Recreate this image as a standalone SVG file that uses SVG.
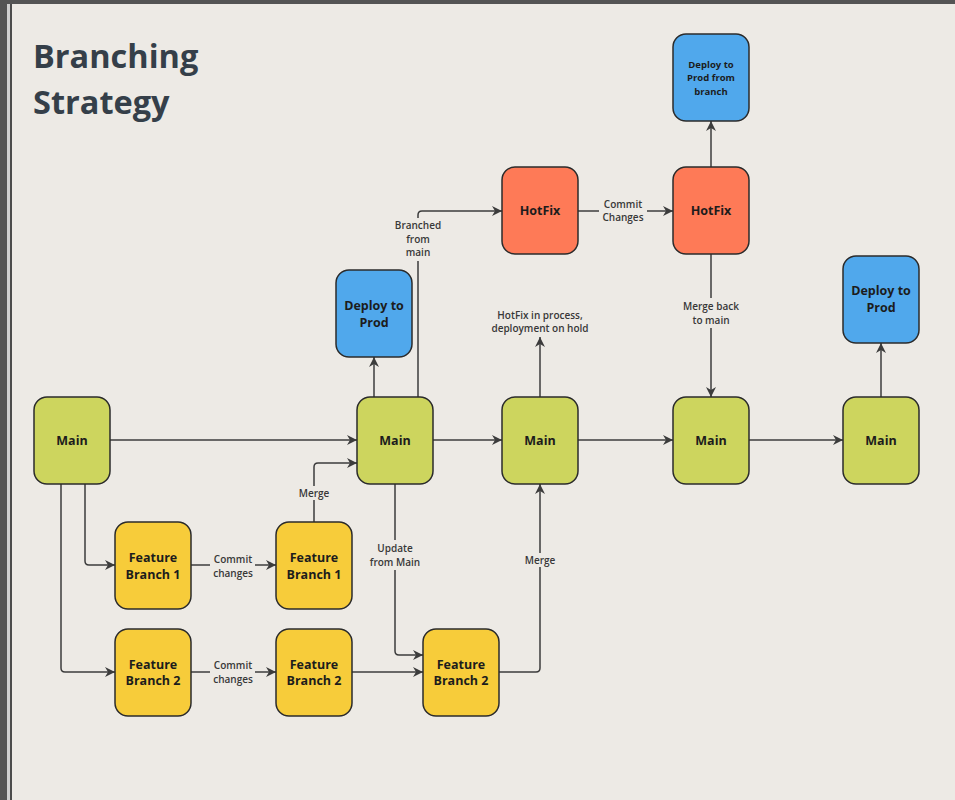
<svg xmlns="http://www.w3.org/2000/svg" width="955" height="800" viewBox="0 0 955 800">
<style>
.node rect{stroke:#2b2b2b;stroke-width:1.5}
.main rect{fill:#CDD55E}
.feat rect{fill:#F7CC3A}
.hot rect{fill:#FE7A57}
.dep rect{fill:#50A8EC}
.nt{font-family:"Open Sans","Noto Sans",sans-serif;font-weight:700;font-size:12.5px;fill:#1c1c1c;text-anchor:middle}
.st{font-size:9.5px}
.conn path{fill:none;stroke:#3c3c3c;stroke-width:1.5;marker-end:url(#ah)}
.lbl rect{fill:#EDEAE5}
.lt{font-family:"Open Sans","Noto Sans",sans-serif;font-weight:600;font-size:10px;fill:#383838;text-anchor:middle}
</style>
<defs>
<marker id="ah" viewBox="0 0 10 10" refX="10" refY="5" markerWidth="10" markerHeight="10" markerUnits="userSpaceOnUse" orient="auto">
<path d="M0,0 L10,5 L0,10 L3,5 z" fill="#3c3c3c"/>
</marker>
</defs>
<rect x="0" y="0" width="955" height="800" fill="#EDEAE5"/>
<rect x="0" y="0" width="955" height="4" fill="#545454"/>
<rect x="0" y="0" width="7" height="800" fill="#545454"/>
<rect x="7" y="4" width="3" height="796" fill="#CFCFCF"/>
<rect x="10" y="4" width="2" height="796" fill="#4c4c4c"/>
<g id="title" font-family="Open Sans,Noto Sans,sans-serif" font-weight="700" font-size="32.5" fill="#353F49">
<text x="33" y="68">Branching</text>
<text x="33" y="114">Strategy</text>
</g>
<g id="connectors" class="conn">
<path d="M110,440 H357"/>
<path d="M85,484 V561 Q85,565 89,565 H115"/>
<path d="M61,484 V668 Q61,672 65,672 H115"/>
<path d="M191,565 H276"/>
<path d="M314,522 V467 Q314,463 318,463 H357"/>
<path d="M395,484 V651 Q395,655 399,655 H423"/>
<path d="M191,672 H276"/>
<path d="M352,672 H423"/>
<path d="M499,672 H536 Q540,672 540,668 V484"/>
<path d="M433,440 H502"/>
<path d="M374,397 V357"/>
<path d="M418,397 V215 Q418,211 422,211 H502"/>
<path d="M578,211 H673"/>
<path d="M711,167 V121"/>
<path d="M711,254 V397"/>
<path d="M540,397 V337"/>
<path d="M578,440 H673"/>
<path d="M749,440 H843"/>
<path d="M881,397 V343"/>
</g>
<g id="labels" class="lbl">
<rect x="210" y="553" width="45" height="28"/>
<text class="lt" x="233" y="562.5">Commit</text>
<text class="lt" x="233" y="576.5">changes</text>
<rect x="210" y="658" width="45" height="28"/>
<text class="lt" x="233" y="669">Commit</text>
<text class="lt" x="233" y="683">changes</text>
<rect x="296" y="486" width="36" height="14"/>
<text class="lt" x="314" y="496.5">Merge</text>
<rect x="369" y="540" width="52" height="30"/>
<text class="lt" x="395" y="551.5">Update</text>
<text class="lt" x="395" y="565.5">from Main</text>
<rect x="522" y="553" width="36" height="14"/>
<text class="lt" x="540" y="563.5">Merge</text>
<rect x="395" y="218" width="46" height="43"/>
<text class="lt" x="418" y="228.5">Branched</text>
<text class="lt" x="418" y="242.5">from</text>
<text class="lt" x="418" y="256">main</text>
<rect x="599" y="197" width="48" height="28"/>
<text class="lt" x="623" y="207.5">Commit</text>
<text class="lt" x="623" y="221">Changes</text>
<rect x="680" y="298" width="62" height="30"/>
<text class="lt" x="711" y="309.5">Merge back</text>
<text class="lt" x="711" y="323.5">to main</text>
<text class="lt" x="540" y="318.5">HotFix in process,</text>
<text class="lt" x="540" y="332">deployment on hold</text>
</g>
<g id="main1" class="node main"><rect x="34" y="397" width="76" height="87" rx="13"/><text class="nt" x="72" y="444.5">Main</text></g>
<g id="main2" class="node main"><rect x="357" y="397" width="76" height="87" rx="13"/><text class="nt" x="395" y="444.5">Main</text></g>
<g id="main3" class="node main"><rect x="502" y="397" width="76" height="87" rx="13"/><text class="nt" x="540" y="444.5">Main</text></g>
<g id="main4" class="node main"><rect x="673" y="397" width="76" height="87" rx="13"/><text class="nt" x="711" y="444.5">Main</text></g>
<g id="main5" class="node main"><rect x="843" y="397" width="76" height="87" rx="13"/><text class="nt" x="881" y="444.5">Main</text></g>
<g id="fb1a" class="node feat"><rect x="115" y="522" width="76" height="87" rx="13"/><text class="nt" x="153" y="562">Feature</text><text class="nt" x="153" y="578.5">Branch 1</text></g>
<g id="fb1b" class="node feat"><rect x="276" y="522" width="76" height="87" rx="13"/><text class="nt" x="314" y="562">Feature</text><text class="nt" x="314" y="578.5">Branch 1</text></g>
<g id="fb2a" class="node feat"><rect x="115" y="629" width="76" height="87" rx="13"/><text class="nt" x="153" y="668.5">Feature</text><text class="nt" x="153" y="685">Branch 2</text></g>
<g id="fb2b" class="node feat"><rect x="276" y="629" width="76" height="87" rx="13"/><text class="nt" x="314" y="668.5">Feature</text><text class="nt" x="314" y="685">Branch 2</text></g>
<g id="fb2c" class="node feat"><rect x="423" y="629" width="76" height="87" rx="13"/><text class="nt" x="461" y="668.5">Feature</text><text class="nt" x="461" y="685">Branch 2</text></g>
<g id="hotfix1" class="node hot"><rect x="502" y="167" width="76" height="87" rx="13"/><text class="nt" x="540" y="215">HotFix</text></g>
<g id="hotfix2" class="node hot"><rect x="673" y="167" width="76" height="87" rx="13"/><text class="nt" x="711" y="215">HotFix</text></g>
<g id="deploy1" class="node dep"><rect x="336" y="270" width="76" height="87" rx="13"/><text class="nt" x="374" y="310">Deploy to</text><text class="nt" x="374" y="327">Prod</text></g>
<g id="deploy2" class="node dep"><rect x="673" y="34" width="76" height="87" rx="13"/><text class="nt st" x="711" y="68">Deploy to</text><text class="nt st" x="711" y="81">Prod from</text><text class="nt st" x="711" y="94.5">branch</text></g>
<g id="deploy3" class="node dep"><rect x="843" y="256" width="76" height="87" rx="13"/><text class="nt" x="881" y="295">Deploy to</text><text class="nt" x="881" y="311.5">Prod</text></g>
</svg>
